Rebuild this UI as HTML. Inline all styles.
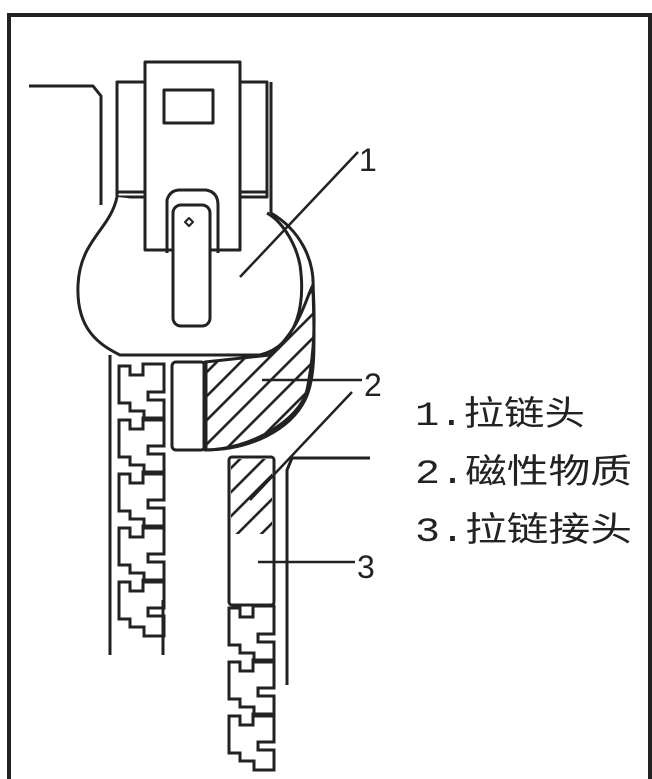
<!DOCTYPE html>
<html><head><meta charset="utf-8"><style>
html,body{margin:0;padding:0;background:#fff;width:652px;height:779px;overflow:hidden}
</style></head><body>
<svg width="652" height="779" viewBox="0 0 652 779" xmlns="http://www.w3.org/2000/svg">
<defs>
<pattern id="h" width="17" height="17" patternUnits="userSpaceOnUse" patternTransform="rotate(45)">
<rect width="17" height="17" fill="#fff"/><line x1="1" y1="0" x2="1" y2="17" stroke="#222" stroke-width="3.2"/>
</pattern>
<g id="tooth"><path d="M119,2 h11 v9 h13 v-11 h21 v28 h-16 v8 h16 v20 h-20 v-9 h-14 v-8 h-11 z" fill="none" stroke="#222" stroke-width="3"/></g>
</defs>
<rect x="9" y="15" width="641" height="800" fill="none" stroke="#222" stroke-width="4"/>
<g fill="none" stroke="#222" stroke-width="3" stroke-linejoin="round">
<polyline points="29,86 93,86 101,96 101,205"/>
<rect x="117" y="82" width="150" height="115" fill="#fff"/>
<line x1="117" y1="192" x2="267" y2="192"/>
<line x1="271" y1="82" x2="271" y2="213"/>
<path d="M117,197 C110,230 80,240 78,285 C76,330 100,345 120,355 L260,355 C300,345 305,300 300,265 C295,240 280,220 267,213" fill="#fff"/>
<path d="M205,362 L205,450 C250,450 300,420 307,390 C315,350 315,320 313,285 C305,300 300,330 270,355 L205,362 Z" fill="url(#h)"/>
<path d="M271,213 C300,230 315,260 313,290 C315,350 315,380 305,400 C290,430 250,450 205,450"/>
<rect x="172" y="362" width="33" height="88" rx="4" fill="#fff"/>
<line x1="205" y1="362" x2="205" y2="450" stroke-width="5"/>
<rect x="145" y="62" width="95" height="188" fill="#fff"/>
<rect x="164" y="90" width="49" height="33"/>
<path d="M167,253 V200 Q170,190 180,190 H206 Q218,192 218,205 V253"/>
<rect x="173" y="205" width="37" height="121" rx="8" fill="#fff"/>
<path d="M185,222 l4,-4 4,4 -4,4 z" stroke-width="2"/>
<line x1="110" y1="355" x2="110" y2="655"/>
<line x1="163" y1="600" x2="163" y2="655"/>
</g>
<g>
<use href="#tooth" y="364"/><use href="#tooth" y="418"/><use href="#tooth" y="472"/><use href="#tooth" y="526"/><use href="#tooth" y="580"/>
</g>
<g fill="none" stroke="#222" stroke-width="3">
<rect x="229" y="457" width="45" height="148" rx="3" fill="#fff"/>
<rect x="231" y="459" width="41" height="75" fill="url(#h)" stroke="none"/>
<polyline points="287,685 287,470 292,458 370,458"/>
</g>
<g transform="translate(110,0)">
<use href="#tooth" y="606"/><use href="#tooth" y="660"/><use href="#tooth" y="714"/>
</g>
<g stroke="#222" stroke-width="2.5" fill="none">
<line x1="240" y1="277" x2="358" y2="152"/>
<line x1="262" y1="380" x2="362" y2="380"/>
<line x1="250" y1="500" x2="352" y2="392"/>
<line x1="258" y1="562" x2="355" y2="562"/>
</g>
<g font-family="Liberation Sans, sans-serif" font-size="32" fill="#222">
<text x="359" y="171">1</text>
<text x="364" y="396">2</text>
<text x="357" y="578">3</text>
</g>
<g font-family="'Liberation Mono','Noto Sans CJK SC',monospace" font-size="34" fill="#222">
<text x="415" y="425" textLength="170" lengthAdjust="spacingAndGlyphs">1.拉链头</text>
<text x="415" y="483" textLength="217" lengthAdjust="spacingAndGlyphs">2.磁性物质</text>
<text x="415" y="541" textLength="217" lengthAdjust="spacingAndGlyphs">3.拉链接头</text>
</g>
</svg>
</body></html>
